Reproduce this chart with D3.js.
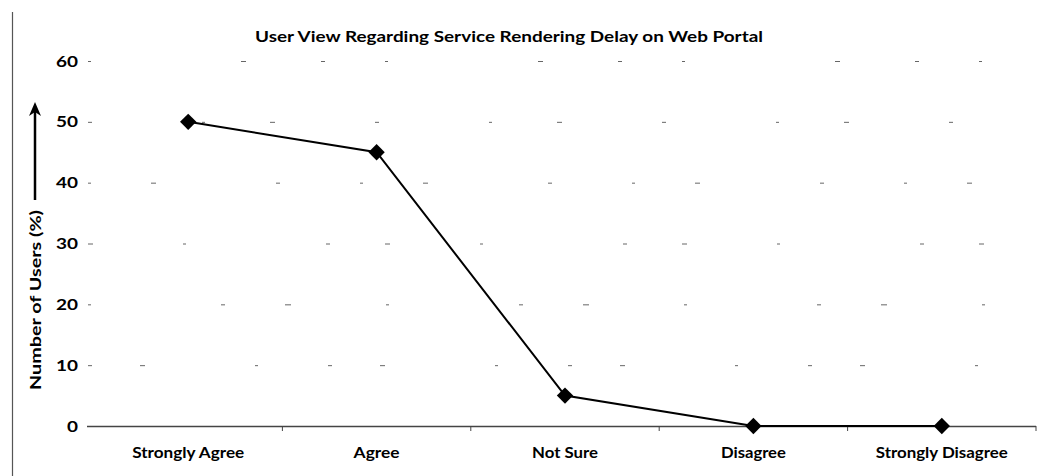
<!DOCTYPE html>
<html><head><meta charset="utf-8">
<script src="https://cdn.jsdelivr.net/npm/d3@7"></script>
<style>body{margin:0;background:#fff}svg{display:block}text{font-family:Lato,"Open Sans",sans-serif;fill:#000}</style>
</head><body><svg id="c" width="1038" height="476"></svg>
<script>
const categories = ["Strongly Agree","Agree","Not Sure","Disagree","Strongly Disagree"];
const values = [50,45,5,0,0];
const yTicks = [0,10,20,30,40,50,60];
const title = "User View Regarding Service Rendering Delay on Web Portal";
const yLabel = "Number of Users (%)";

const svg = d3.select("#c");
const x = d3.scaleBand().domain(categories).range([94,1036]);
const y = d3.scaleLinear().domain([0,60]).range([426,61]);

// left border
svg.append("line").attr("x1",12.5).attr("x2",12.5).attr("y1",12).attr("y2",476).attr("stroke","#555").attr("stroke-width",1.2);

// sparse broken gridlines
svg.append("g").selectAll("line").data(yTicks.filter(d=>d>0)).join("line")
  .attr("x1",88).attr("x2",1036).attr("y1",d=>y(d)+0.5).attr("y2",d=>y(d)+0.5)
  .attr("stroke","#666").attr("stroke-width",1)
  .attr("stroke-dasharray",(d,i)=>["4,48,5,110,3,70","3,130,4,60,6,95","5,90,3,140,4,55","3,60,5,120,4,80","4,110,3,65,5,100","3,150,5,75,4,60"][i]);

// x axis
const xa = svg.append("g").attr("transform","translate(0,426)")
  .call(d3.axisBottom(x).tickSize(0).tickPadding(21));
xa.select(".domain").remove();
xa.selectAll("text").attr("font-size",15).attr("font-weight","bold")
  .attr("textLength",d=>({"Strongly Agree":112,"Agree":46,"Not Sure":66,"Disagree":65,"Strongly Disagree":132})[d])
  .attr("lengthAdjust","spacingAndGlyphs");
svg.append("line").attr("x1",87).attr("x2",1036).attr("y1",426.5).attr("y2",426.5).attr("stroke","#444").attr("stroke-width",1.3);
const bounds = categories.slice(1).map(c=>x(c)).concat([x.range()[1]]);
svg.append("g").selectAll("line").data(bounds).join("line")
  .attr("x1",d=>d).attr("x2",d=>d).attr("y1",426).attr("y2",431).attr("stroke","#444");

// y axis (labels only)
const ya = svg.append("g").attr("transform","translate(78,0)")
  .call(d3.axisLeft(y).tickValues(yTicks).tickSize(0).tickPadding(0));
ya.select(".domain").remove();
ya.selectAll("text").attr("font-size",16).attr("font-weight","bold")
  .attr("textLength",d=>d===0?11:22).attr("lengthAdjust","spacingAndGlyphs");

// title
svg.append("text").attr("x",509).attr("y",42).attr("text-anchor","middle")
  .attr("font-size",15).attr("font-weight","bold").text(title)
  .attr("textLength",508).attr("lengthAdjust","spacingAndGlyphs");

// y label and arrow
svg.append("text").attr("transform","translate(41,300) rotate(-90)").attr("text-anchor","middle")
  .attr("font-size",15).attr("font-weight","bold").text(yLabel)
  .attr("textLength",180).attr("lengthAdjust","spacingAndGlyphs");
svg.append("line").attr("x1",35).attr("x2",35).attr("y1",200).attr("y2",112).attr("stroke","#000").attr("stroke-width",2.5);
svg.append("path").attr("d","M35,102 L29,116 L35,112 L41,116 Z").attr("fill","#000");

// line
svg.append("path").datum(values)
  .attr("d",d3.line().x((d,i)=>x(categories[i])+x.bandwidth()/2).y(d=>y(d)))
  .attr("fill","none").attr("stroke","#000").attr("stroke-width",2);
svg.append("g").selectAll("path").data(values).join("path")
  .attr("transform",(d,i)=>`translate(${x(categories[i])+x.bandwidth()/2},${y(d)})`)
  .attr("d",d3.symbol(d3.symbolDiamond2,170))
  .attr("fill","#000");
</script></body></html>
